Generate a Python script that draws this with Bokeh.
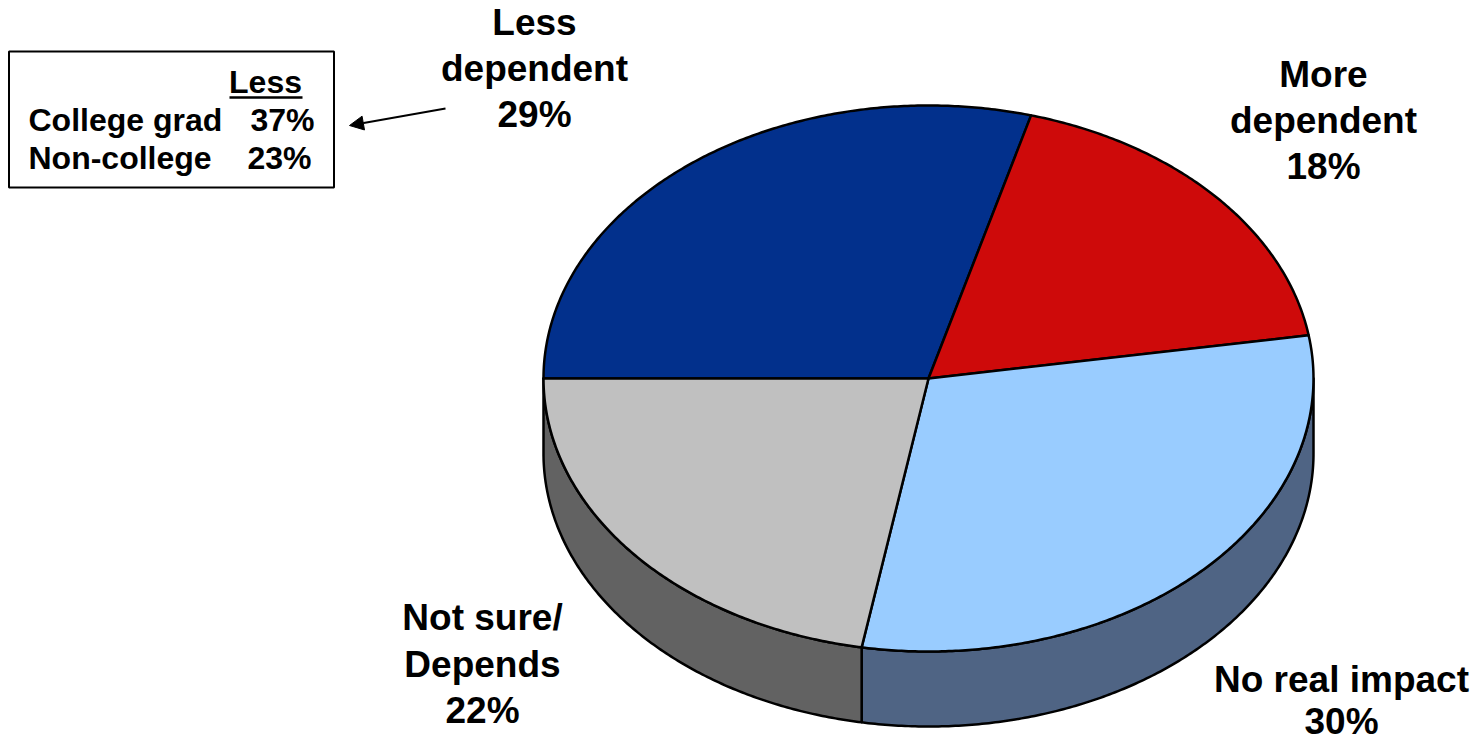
import numpy as np
from bokeh.core.properties import value
from bokeh.embed import file_html
from bokeh.models import Arrow, NormalHead, Range1d
from bokeh.plotting import figure
from bokeh.resources import INLINE

# Survey shares, clockwise from the nine o'clock position
categories = ["Less dependent", "More dependent", "No real impact", "Not sure/Depends"]
shares = [29, 18, 30, 22]
top_colors = ["#02308C", "#CE0A0A", "#99CCFF", "#C0C0C0"]
side_colors = ["#011A4D", "#700505", "#4F6484", "#626262"]

# Side table: education breakdown of the "Less" answer
table_rows = ["College grad", "Non-college"]
table_values = ["37%", "23%"]
table_heading = "Less"

WIDTH, HEIGHT = 1473, 743
CX, CY, RX, RY, DEPTH = 928, 378, 385, 273, 75
FONT = value("Liberation Sans")
SIZE = "37px"
TABLE_SIZE = "32px"

p = figure(width=WIDTH, height=HEIGHT, output_backend="svg", toolbar_location=None,
           x_range=Range1d(0, WIDTH), y_range=Range1d(HEIGHT, 0), min_border=0,
           outline_line_color=None, background_fill_color="white",
           border_fill_color="white")
p.axis.visible = False
p.grid.visible = False


def rim(a0, a1, dy=0.0):
    """Points on the pie's elliptical edge between two angles (degrees)."""
    n = max(2, int(abs(a1 - a0) * 2) + 1)
    t = np.radians(np.linspace(a0, a1, n))
    return CX + RX * np.cos(t), CY - RY * np.sin(t) + dy


# Slice boundaries: angles run clockwise starting from 180 degrees
frac = np.array(shares, dtype=float) / sum(shares)
edges = 180 - 360 * np.concatenate([[0], np.cumsum(frac)])

# Side walls first, only for the part of each slice on the near half of the pie
for i in range(len(shares)):
    a0, a1 = edges[i], edges[i + 1]
    lo, hi = max(a1, -180), min(a0, 0)
    if lo >= hi:
        continue
    xa, ya = rim(hi, lo)
    xb, yb = rim(lo, hi, DEPTH)
    p.patch(np.r_[xa, xb], np.r_[ya, yb], fill_color=side_colors[i],
            line_color="black", line_width=2.5, line_join="round")

# Top faces
for i in range(len(shares)):
    xa, ya = rim(edges[i], edges[i + 1])
    p.patch(np.r_[CX, xa], np.r_[CY, ya], fill_color=top_colors[i],
            line_color="black", line_width=2.5, line_join="round")

# Slice labels
label_x = [534, 1323, 1341, 482]
label_y = [[22, 68, 114], [74, 120, 166], [679, 721], [617, 664, 710]]
label_lines = [
    ["Less", "dependent", f"{shares[0]}%"],
    ["More", "dependent", f"{shares[1]}%"],
    ["No real impact", f"{shares[2]}%"],
    ["Not sure/", "Depends", f"{shares[3]}%"],
]
for x, ys, lines in zip(label_x, label_y, label_lines):
    p.text([x] * len(lines), ys, text=lines, text_font=FONT, text_font_style="bold",
           text_font_size=SIZE, text_align="center", text_baseline="middle",
           text_color="black")

# Breakdown box
p.quad(left=[8.5], right=[333.5], top=[51], bottom=[187], fill_color="white",
       line_color="black", line_width=2)
p.text([265], [81], text=[table_heading], text_font=FONT, text_font_style="bold",
       text_font_size=TABLE_SIZE, text_align="center", text_baseline="middle",
       text_color="black")
p.segment([229], [97], [302], [97], line_color="black", line_width=2.5)
p.text([28, 28], [119, 157], text=table_rows, text_font=FONT, text_font_style="bold",
       text_font_size=TABLE_SIZE, text_align="left", text_baseline="middle",
       text_color="black")
p.text([314, 311], [119, 157], text=table_values, text_font=FONT, text_font_style="bold",
       text_font_size=TABLE_SIZE, text_align="right", text_baseline="middle",
       text_color="black")

# Pointer from the slice label to the box
p.add_layout(Arrow(end=NormalHead(size=14, fill_color="black", line_color="black"),
                   x_start=445, y_start=108, x_end=349, y_end=125,
                   line_color="black", line_width=2))

open("out.html", "w").write(file_html(p, INLINE))
